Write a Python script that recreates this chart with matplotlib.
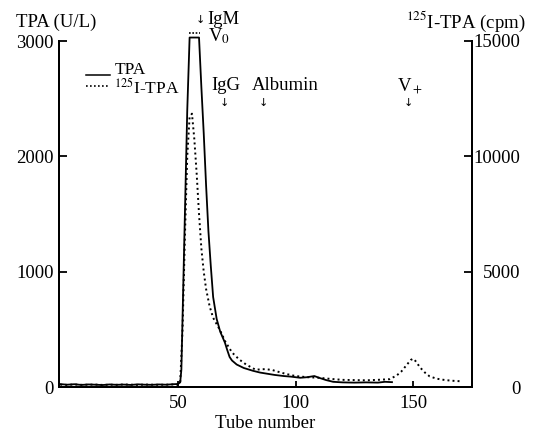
import matplotlib
matplotlib.use("Agg")
import matplotlib.pyplot as plt
from matplotlib.lines import Line2D

plt.rcParams["font.family"] = ["Liberation Serif", "DejaVu Serif"]
plt.rcParams["mathtext.fontset"] = "stix"

# TPA activity (U/L), solid line
tpa_tube = [0, 3, 6, 9, 12, 15, 18, 21, 24, 27, 30, 33, 36, 39, 42, 45, 48, 50,
            51, 51.5, 52, 53, 54, 55, 59, 60, 61, 62, 63, 64, 65, 66.5, 68, 70,
            71, 72, 73, 75, 78, 82, 85, 88, 91, 95, 98, 102, 105, 108, 110, 113,
            116, 120, 125, 130, 135, 138, 141]
tpa_val = [25, 20, 24, 18, 22, 20, 17, 22, 19, 21, 18, 23, 20, 19, 22, 20, 24, 26,
           40, 150, 600, 1500, 2400, 3030, 3030, 2600, 2200, 1750, 1350, 1050, 780,
           590, 480, 385, 320, 260, 230, 195, 165, 140, 125, 115, 105, 95, 90, 80,
           85, 95, 80, 60, 45, 40, 38, 40, 38, 45, 42]

# 125I-TPA (cpm), dotted line
i125_tube = [0, 3, 6, 9, 12, 15, 18, 21, 24, 27, 30, 33, 36, 39, 42, 45, 48, 50,
             51, 52, 53, 54, 55, 56, 57, 58, 59, 60, 61, 62, 63.5, 65, 68, 70, 73,
             76, 79, 83, 87, 90, 93, 96, 100, 105, 110, 115, 120, 125, 130, 135,
             140, 143, 145, 147, 149, 150, 151, 153, 155, 157, 160, 163, 166, 170]
i125_cpm = [100, 90, 110, 95, 100, 105, 90, 100, 95, 110, 100, 90, 105, 100, 95,
            100, 110, 100, 200, 2500, 6500, 10000, 11700, 11850, 10750, 9250,
            7500, 6000, 5000, 4250, 3500, 3000, 2450, 2000, 1500, 1200, 975, 750,
            775, 740, 650, 565, 475, 425, 400, 350, 310, 300, 290, 310, 340, 500,
            675, 925, 1175, 1225, 1125, 840, 625, 460, 360, 310, 275, 250]

W, H = 541, 436
fig = plt.figure(figsize=(W / 100, H / 100), dpi=100)
ax = fig.add_axes([59 / W, 1 - 387 / H, (472 - 59) / W, (387 - 41) / H])
ax2 = ax.twinx()


def ftxt(x, y, s, **kw):
    fig.text(x / W, 1 - y / H, s, **kw)


ax.plot(tpa_tube, tpa_val, color="black", lw=1.3, clip_on=False)
ax2.plot(i125_tube, i125_cpm, color="black", lw=1.4, linestyle=(0, (1, 1.6)),
         clip_on=False)

ax.set_xlim(-0.5, 175)
ax.set_ylim(0, 3000)
ax2.set_ylim(0, 15000)
ax.set_xticks([50, 100, 150])
ax.set_yticks([0, 1000, 2000, 3000])
ax2.set_yticks([0, 5000, 10000, 15000])

for a in (ax, ax2):
    a.spines["top"].set_visible(False)
    for s in a.spines.values():
        s.set_linewidth(1.4)
ax.tick_params(axis="both", direction="in", length=6, width=1.3,
               labelsize=13.5, pad=4)
ax.tick_params(axis="x", length=4, pad=6)
ax2.tick_params(axis="y", direction="in", length=6, width=1.3,
                labelsize=13.5, pad=35)
for lab in ax2.get_yticklabels():
    lab.set_horizontalalignment("right")

ax.set_xlabel("Tube number", fontsize=13.5, labelpad=2)

# axis titles
ftxt(16, 22, "TPA (U/L)", fontsize=13.5, va="center", ha="left")
ftxt(525, 22, r"$^{125}$I-TPA (cpm)", fontsize=13.5, va="center", ha="right")

# legend
fig.add_artist(Line2D([86 / W, 110 / W], [1 - 75 / H] * 2, color="black", lw=1.1))
fig.add_artist(Line2D([86 / W, 110 / W], [1 - 86 / H] * 2, color="black", lw=1.2,
                      linestyle=(0, (1, 1.4))))
ftxt(115, 70, "TPA", fontsize=12.5, va="center")
ftxt(114, 88, r"$^{125}$I-TPA", fontsize=12.5, va="center")

# markers
arrow_kw = dict(fontsize=8, ha="center", va="center",
                family=["DejaVu Sans"])
ftxt(200, 20, "\u2193", **arrow_kw)
ftxt(207, 19, "IgM", fontsize=13.5, va="center")
ftxt(208, 36, r"V$_0$", fontsize=13.5, va="center")
fig.add_artist(Line2D([189 / W, 200 / W], [1 - 33 / H] * 2, color="black",
                      lw=1.2, linestyle=(0, (1, 1))))
ftxt(226, 86, "IgG", fontsize=13.5, va="center", ha="center")
ftxt(224, 103, "\u2193", **arrow_kw)
ftxt(285, 86, "Albumin", fontsize=13.5, va="center", ha="center")
ftxt(263, 103, "\u2193", **arrow_kw)
ftxt(410, 86, r"V$_+$", fontsize=13.5, va="center", ha="center")
ftxt(408, 103, "\u2193", **arrow_kw)

fig.savefig("out.png", dpi=100)
